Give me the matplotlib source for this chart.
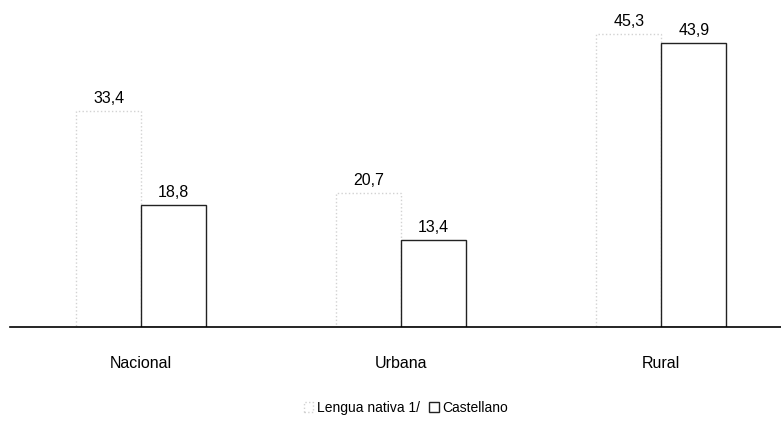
import matplotlib.pyplot as plt
import numpy as np

plt.rcParams['font.family'] = ['Liberation Sans', 'DejaVu Sans']

categorias = ["Nacional", "Urbana", "Rural"]
lengua_nativa = [33.4, 20.7, 45.3]
castellano = [18.8, 13.4, 43.9]
series = ["Lengua nativa 1/", "Castellano"]


def main():
    fig = plt.figure(figsize=(7.81, 4.21), dpi=100)
    ax = fig.add_axes([10 / 781, (421 - 327) / 421, 771 / 781, 317 / 421])

    x = np.arange(len(categorias))
    w = 0.25
    b1 = ax.bar(x - w / 2, lengua_nativa, w, color="white", edgecolor="#d2d2d2",
                linestyle=":", linewidth=1.0, label=series[0])
    b2 = ax.bar(x + w / 2, castellano, w, color="white", edgecolor="#222222",
                linewidth=1.0, label=series[1])

    for bars, vals in ((b1, lengua_nativa), (b2, castellano)):
        for r, v in zip(bars, vals):
            ax.text(r.get_x() + r.get_width() / 2, v + 0.8, f"{v:.1f}".replace(".", ","),
                    ha="center", va="bottom", fontsize=11.5)

    ax.set_xlim(-0.504, 2.46)
    ax.set_ylim(0, 49)
    for s in ["top", "right", "left"]:
        ax.spines[s].set_visible(False)
    ax.spines["bottom"].set_linewidth(1.2)
    ax.set_yticks([])
    ax.set_xticks(x)
    ax.set_xticklabels(categorias, fontsize=11.5)
    ax.tick_params(axis="x", length=0, pad=21)

    fig.legend(loc="center", bbox_to_anchor=(406 / 781, 1 - 408 / 421), ncol=2,
               frameon=False, fontsize=10, handlelength=0.7, handleheight=0.7,
               columnspacing=0.6, handletextpad=0.3)

    fig.savefig("out.png", dpi=100)


if __name__ == "__main__":
    main()
